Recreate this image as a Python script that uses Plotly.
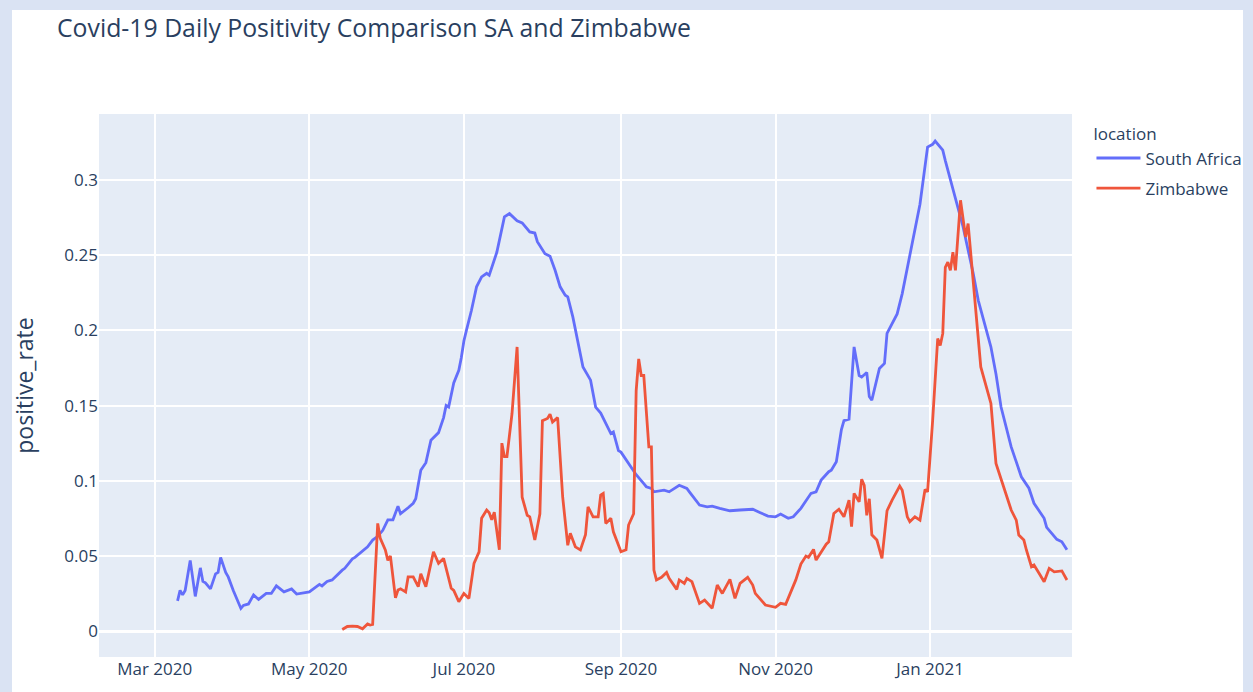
import plotly.graph_objects as go

# ---------------- data ----------------
sa_dates = [
    "2020-03-10", "2020-03-11", "2020-03-12", "2020-03-13", "2020-03-15", "2020-03-16",
    "2020-03-17", "2020-03-19", "2020-03-20", "2020-03-21", "2020-03-23", "2020-03-25",
    "2020-03-26", "2020-03-27", "2020-03-29", "2020-03-30", "2020-04-01", "2020-04-04",
    "2020-04-05", "2020-04-07", "2020-04-09", "2020-04-11", "2020-04-14", "2020-04-16",
    "2020-04-18", "2020-04-21", "2020-04-24", "2020-04-26", "2020-04-30", "2020-05-01",
    "2020-05-05", "2020-05-06", "2020-05-08", "2020-05-10", "2020-05-14", "2020-05-15",
    "2020-05-18", "2020-05-19", "2020-05-24", "2020-05-26", "2020-05-28", "2020-05-30",
    "2020-06-01", "2020-06-03", "2020-06-05", "2020-06-06", "2020-06-09", "2020-06-11",
    "2020-06-12", "2020-06-13", "2020-06-14", "2020-06-16", "2020-06-18", "2020-06-21",
    "2020-06-23", "2020-06-24", "2020-06-25", "2020-06-27", "2020-06-29", "2020-06-30",
    "2020-07-01", "2020-07-02", "2020-07-04", "2020-07-06", "2020-07-08", "2020-07-10",
    "2020-07-11", "2020-07-14", "2020-07-16", "2020-07-17", "2020-07-19", "2020-07-22",
    "2020-07-24", "2020-07-27", "2020-07-29", "2020-07-30", "2020-08-02", "2020-08-04",
    "2020-08-06", "2020-08-08", "2020-08-10", "2020-08-11", "2020-08-13", "2020-08-15",
    "2020-08-17", "2020-08-20", "2020-08-22", "2020-08-24", "2020-08-28", "2020-08-29",
    "2020-08-31", "2020-09-01", "2020-09-03", "2020-09-05", "2020-09-07", "2020-09-10",
    "2020-09-11", "2020-09-13", "2020-09-14", "2020-09-18", "2020-09-20", "2020-09-24",
    "2020-09-27", "2020-09-28", "2020-10-02", "2020-10-05", "2020-10-07", "2020-10-10",
    "2020-10-14", "2020-10-18", "2020-10-23", "2020-10-26", "2020-10-29", "2020-11-01",
    "2020-11-03", "2020-11-06", "2020-11-08", "2020-11-11", "2020-11-15", "2020-11-17",
    "2020-11-19", "2020-11-22", "2020-11-23", "2020-11-25", "2020-11-27", "2020-11-28",
    "2020-11-30", "2020-12-02", "2020-12-04", "2020-12-05", "2020-12-07", "2020-12-08",
    "2020-12-09", "2020-12-12", "2020-12-14", "2020-12-15", "2020-12-19", "2020-12-21",
    "2020-12-24", "2020-12-28", "2020-12-31", "2021-01-02", "2021-01-03", "2021-01-06",
    "2021-01-07", "2021-01-09", "2021-01-11", "2021-01-14", "2021-01-18", "2021-01-20",
    "2021-01-25", "2021-01-27", "2021-01-29", "2021-02-02", "2021-02-06", "2021-02-09",
    "2021-02-11", "2021-02-15", "2021-02-16", "2021-02-20", "2021-02-22", "2021-02-24",
]
sa_rate = [
    0.020, 0.027, 0.024, 0.027, 0.047, 0.036,
    0.023, 0.042, 0.033, 0.032, 0.028, 0.038,
    0.039, 0.049, 0.039, 0.036, 0.027, 0.015,
    0.017, 0.018, 0.024, 0.021, 0.025, 0.025,
    0.030, 0.026, 0.028, 0.0246, 0.026, 0.026,
    0.031, 0.030, 0.033, 0.034, 0.0405, 0.0417,
    0.048, 0.049, 0.056, 0.0605, 0.063, 0.067,
    0.074, 0.074, 0.083, 0.078, 0.082, 0.085,
    0.088, 0.097, 0.107, 0.112, 0.127, 0.132,
    0.142, 0.150, 0.149, 0.165, 0.1735, 0.182,
    0.193, 0.200, 0.2134, 0.229, 0.2356, 0.238,
    0.2367, 0.252, 0.2666, 0.2755, 0.2777, 0.273,
    0.2715, 0.2655, 0.2648, 0.259, 0.251, 0.2493,
    0.240, 0.229, 0.2234, 0.2223, 0.209, 0.1935,
    0.1757, 0.1669, 0.149, 0.145, 0.1314, 0.1325,
    0.120, 0.119, 0.1137, 0.109, 0.104, 0.098,
    0.096, 0.0949, 0.0926, 0.0937, 0.0926, 0.097,
    0.0949, 0.0926, 0.0838, 0.0826, 0.0831, 0.0816,
    0.080, 0.0805, 0.081, 0.0787, 0.0765, 0.076,
    0.0778, 0.075, 0.076, 0.0816, 0.0916, 0.0926,
    0.1004, 0.106, 0.107, 0.1126, 0.134, 0.140,
    0.141, 0.189, 0.170, 0.169, 0.172, 0.156,
    0.1536, 0.1747, 0.178, 0.198, 0.211, 0.2245,
    0.251, 0.284, 0.322, 0.3238, 0.326, 0.320,
    0.313, 0.300, 0.288, 0.269, 0.238, 0.220,
    0.189, 0.171, 0.149, 0.1225, 0.1026, 0.095,
    0.085, 0.075, 0.069, 0.061, 0.0594, 0.054,
]

zw_dates = [
    "2020-05-14", "2020-05-16", "2020-05-18", "2020-05-20", "2020-05-22", "2020-05-24",
    "2020-05-25", "2020-05-26", "2020-05-28", "2020-05-29", "2020-05-31", "2020-06-01",
    "2020-06-02", "2020-06-03", "2020-06-04", "2020-06-05", "2020-06-06", "2020-06-07",
    "2020-06-08", "2020-06-09", "2020-06-11", "2020-06-13", "2020-06-14", "2020-06-16",
    "2020-06-19", "2020-06-21", "2020-06-23", "2020-06-26", "2020-06-27", "2020-06-29",
    "2020-07-01", "2020-07-03", "2020-07-05", "2020-07-07", "2020-07-08", "2020-07-10",
    "2020-07-11", "2020-07-12", "2020-07-13", "2020-07-15", "2020-07-16", "2020-07-17",
    "2020-07-18", "2020-07-20", "2020-07-22", "2020-07-24", "2020-07-26", "2020-07-27",
    "2020-07-29", "2020-07-31", "2020-08-01", "2020-08-03", "2020-08-04", "2020-08-05",
    "2020-08-07", "2020-08-09", "2020-08-11", "2020-08-12", "2020-08-14", "2020-08-16",
    "2020-08-18", "2020-08-19", "2020-08-21", "2020-08-23", "2020-08-24", "2020-08-25",
    "2020-08-26", "2020-08-28", "2020-08-29", "2020-09-01", "2020-09-03", "2020-09-04",
    "2020-09-06", "2020-09-07", "2020-09-08", "2020-09-09", "2020-09-10", "2020-09-12",
    "2020-09-13", "2020-09-14", "2020-09-15", "2020-09-17", "2020-09-19", "2020-09-20",
    "2020-09-23", "2020-09-24", "2020-09-26", "2020-09-27", "2020-09-29", "2020-10-02",
    "2020-10-04", "2020-10-07", "2020-10-09", "2020-10-11", "2020-10-14", "2020-10-16",
    "2020-10-18", "2020-10-21", "2020-10-23", "2020-10-24", "2020-10-28", "2020-11-01",
    "2020-11-03", "2020-11-05", "2020-11-08", "2020-11-09", "2020-11-11", "2020-11-13",
    "2020-11-14", "2020-11-16", "2020-11-17", "2020-11-19", "2020-11-21", "2020-11-22",
    "2020-11-24", "2020-11-26", "2020-11-28", "2020-11-30", "2020-12-01", "2020-12-02",
    "2020-12-04", "2020-12-05", "2020-12-06", "2020-12-07", "2020-12-08", "2020-12-09",
    "2020-12-11", "2020-12-13", "2020-12-15", "2020-12-17", "2020-12-20", "2020-12-21",
    "2020-12-23", "2020-12-24", "2020-12-26", "2020-12-28", "2020-12-30", "2020-12-31",
    "2021-01-02", "2021-01-04", "2021-01-05", "2021-01-06", "2021-01-07", "2021-01-08",
    "2021-01-09", "2021-01-10", "2021-01-11", "2021-01-13", "2021-01-14", "2021-01-15",
    "2021-01-16", "2021-01-19", "2021-01-21", "2021-01-25", "2021-01-27", "2021-01-30",
    "2021-02-02", "2021-02-04", "2021-02-05", "2021-02-07", "2021-02-08", "2021-02-10",
    "2021-02-11", "2021-02-13", "2021-02-15", "2021-02-17", "2021-02-19", "2021-02-22",
    "2021-02-24",
]
zw_rate = [
    0.001, 0.003, 0.0033, 0.003, 0.0015, 0.0047,
    0.004, 0.0044, 0.0716, 0.0616, 0.054, 0.047,
    0.050, 0.034, 0.022, 0.0273, 0.028, 0.027,
    0.026, 0.036, 0.036, 0.0295, 0.038, 0.0295,
    0.0527, 0.045, 0.0483, 0.0284, 0.027, 0.0195,
    0.025, 0.0217, 0.045, 0.0527, 0.075, 0.0805,
    0.0787, 0.074, 0.079, 0.054, 0.125, 0.116,
    0.116, 0.1447, 0.189, 0.089, 0.077, 0.076,
    0.0605, 0.078, 0.140, 0.1414, 0.1443, 0.139,
    0.142, 0.089, 0.057, 0.065, 0.056, 0.054,
    0.064, 0.0826, 0.076, 0.076, 0.0904, 0.0915,
    0.0716, 0.075, 0.066, 0.0527, 0.054, 0.0705,
    0.078, 0.160, 0.181, 0.170, 0.170, 0.1225,
    0.1225, 0.0405, 0.034, 0.0357, 0.039, 0.035,
    0.0277, 0.034, 0.0317, 0.035, 0.0328, 0.0184,
    0.0206, 0.0151, 0.0306, 0.025, 0.0344, 0.0217,
    0.0317, 0.0357, 0.0306, 0.025, 0.0173, 0.0158,
    0.0184, 0.0177, 0.0306, 0.034, 0.0445, 0.0499,
    0.049, 0.0543, 0.0472, 0.0527, 0.0578, 0.0594,
    0.0782, 0.081, 0.076, 0.0871, 0.0694, 0.0915,
    0.086, 0.101, 0.097, 0.077, 0.088, 0.064,
    0.0605, 0.0483, 0.080, 0.0871, 0.0964, 0.0937,
    0.076, 0.0727, 0.076, 0.0738, 0.0942, 0.0926,
    0.140, 0.1946, 0.190, 0.198, 0.242, 0.2455,
    0.240, 0.252, 0.240, 0.2866, 0.2733, 0.2622,
    0.2711, 0.2134, 0.1757, 0.1514, 0.1115, 0.096,
    0.0805, 0.0738, 0.0638, 0.0605, 0.0539, 0.0428,
    0.0439, 0.0384, 0.0328, 0.0417, 0.0394, 0.040,
    0.0339,
]

series_names = ["South Africa", "Zimbabwe"]
series_colors = ["#636efa", "#EF553B"]

# ---------------- figure ----------------
W, H = 1253, 692
ML, MR, MT, MB = 99, 181, 114, 35
PW, PH = W - ML - MR, H - MT - MB
FONT = "Open Sans, verdana, arial, sans-serif"
TXT = "#2a3f5f"
BORDER = "#dae3f3"

fig = go.Figure()
for name, xs, ys, col in zip(series_names, [sa_dates, zw_dates], [sa_rate, zw_rate], series_colors):
    fig.add_trace(go.Scatter(x=xs, y=ys, mode="lines", name=name, legendgroup=name,
                             line=dict(color=col, width=2.8)))

def px_to_paper_x(px):
    return (px - ML) / PW

def px_to_paper_y(py):
    return (H - MB - py) / PH

shapes = []
# light-blue frame around the white figure (left, top, right strips)
for x0, x1, y0, y1 in [(-5, 12, -5, H + 5), (-5, W + 5, -5, 10), (1243, W + 5, -5, H + 5)]:
    shapes.append(dict(type="rect", xref="paper", yref="paper",
                       x0=px_to_paper_x(x0), x1=px_to_paper_x(x1),
                       y0=px_to_paper_y(y1), y1=px_to_paper_y(y0),
                       fillcolor=BORDER, line=dict(width=0), layer="above"))

fig.update_layout(
    width=W, height=H,
    margin=dict(l=ML, r=MR, t=MT, b=MB, autoexpand=False),
    paper_bgcolor="white",
    plot_bgcolor="#E5ECF6",
    font=dict(family=FONT, size=17, color=TXT),
    title=dict(text="Covid-19 Daily Positivity Comparison SA and Zimbabwe",
               x=57 / W, xref="container", xanchor="left",
               y=1 - 28 / H, yref="container", yanchor="middle",
               font=dict(size=24.8, color=TXT)),
    legend=dict(title=dict(text="location", font=dict(size=17)),
                x=1.02, y=0.992, xanchor="left", yanchor="top",
                bgcolor="rgba(0,0,0,0)",
                font=dict(size=17), tracegroupgap=5, itemwidth=44),
    shapes=shapes,
    xaxis=dict(range=["2020-02-08", "2021-02-26"], dtick="M2", tick0="2020-01-01",
               tickformat="%b %Y", showgrid=True, gridcolor="white", gridwidth=1.5,
               zeroline=False, showline=False, ticks=""),
    yaxis=dict(range=[-0.0173, 0.344], dtick=0.05, tick0=0,
               title=dict(text="positive_rate", font=dict(size=23), standoff=24),
               showgrid=True, gridcolor="white", gridwidth=1.5,
               zeroline=True, zerolinecolor="white", zerolinewidth=3, ticks=""),
)

fig.write_html("out.html", config={"displayModeBar": False},
               post_script="document.body.style.margin='0';")
